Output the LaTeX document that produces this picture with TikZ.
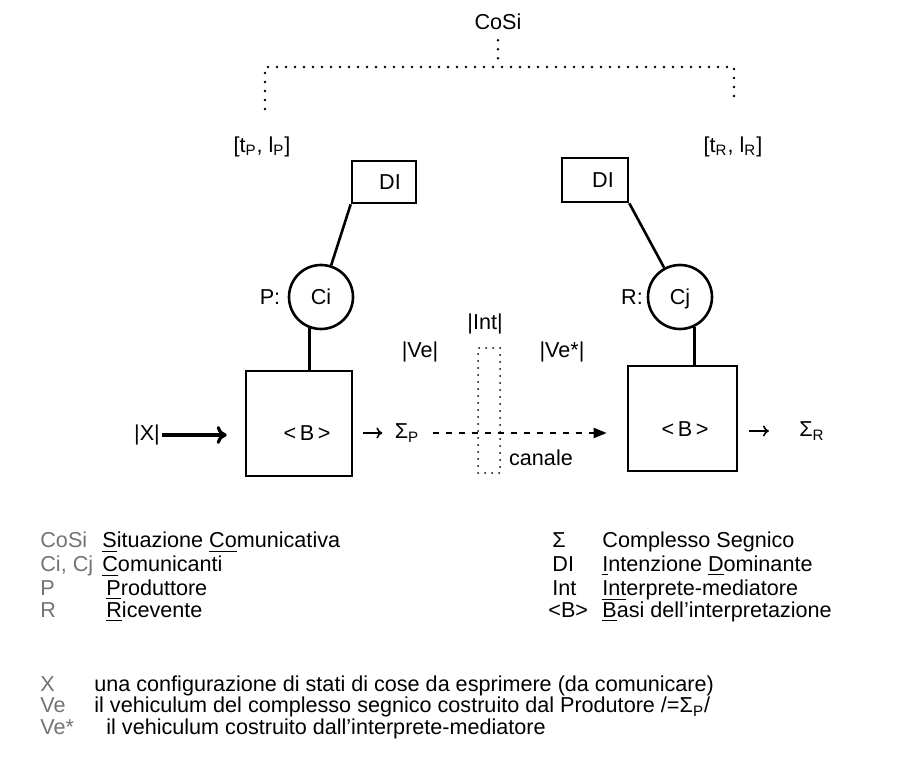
\documentclass[tikz,border=0pt]{standalone}
\usepackage{fontspec}
\setmainfont{Liberation Sans}
\usetikzlibrary{arrows.meta}

\begin{document}
\begin{tikzpicture}[x=0.5pt, y=-0.5pt,
    font=\fontsize{10.8}{13}\selectfont,
    every node/.style={inner sep=1pt},
    frame/.style={draw, line width=1.3pt, inner sep=0pt, text height=7.7pt, text depth=0pt},
    link/.style={line width=1.3pt},
    dotline/.style={line width=1.4pt, line cap=round, dash pattern=on 0pt off 4.5pt},
    dashline/.style={line width=1pt, dash pattern=on 3pt off 3.5pt,
        -{Triangle[length=6.5pt, width=5pt]}},
    smallarrow/.style={line width=0.8pt, -{To[length=3pt, width=5.5pt]}},
    tag/.style={anchor=base west, text=black!55},
    rtag/.style={anchor=base west},
    entry/.style={anchor=base west}]
    \useasboundingbox (0,0) rectangle (906,764);

    % situazione comunicativa
    \node (cosi) at (498,22) {CoSi};
    \node (tlP) at (262,147) {[t\textsubscript{P}, l\textsubscript{P}]};
    \node (tlR) at (733,147) {[t\textsubscript{R}, l\textsubscript{R}]};
    \coordinate (brL) at (265,67);
    \coordinate (brR) at (734,67);
    \coordinate (endL) at (265,109);
    \coordinate (endR) at (734,103);
    \draw[dotline, shorten <=4pt] (cosi.south) -- (cosi.south |- brL);
    \draw[dotline] (endL) -- (brL) -- (brR) -- (endR);

    % produttore
    \node[frame, minimum width=32pt, minimum height=21pt] (diP) at (384,182) {\hspace*{6pt}DI};
    \node[frame, circle, minimum size=32pt] (ci) at (321,297) {Ci};
    \node (lblP) at (270,297) {P:};
    \node[frame, minimum width=53pt, minimum height=52.5pt] (boxP) at (299,423.5) {};
    \node (bP) at (307,433) {<\,B\,>};
    \draw[link] (diP.south west) -- (ci);
    \draw[link] (ci.250) -- (ci.250 |- boxP.north);

    % ricevente
    \node[frame, minimum width=33pt, minimum height=22pt] (diR) at (595,180) {\hspace*{8pt}DI};
    \node[frame, circle, minimum size=32pt] (cj) at (680,297) {Cj};
    \node (lblR) at (632,297) {R:};
    \node[frame, minimum width=54.5pt, minimum height=52.5pt] (boxR) at (682.5,418.5) {};
    \node (bR) at (685,429) {<\,B\,>};
    \draw[link] (diR.south east) -- (cj);
    \draw[link] (cj.296) -- (cj.296 |- boxR.north);

    % canale
    \node (x) at (147,435) {|X|};
    \node (sigP) at (407,433) {Σ\textsubscript{P}};
    \node (sigR) at (812,431) {Σ\textsubscript{R}};
    \node[draw, line width=1pt, line cap=round, dash pattern=on 0pt off 3.5pt,
          minimum width=11pt, minimum height=62.5pt] (intBox) at (489,410.5) {};
    \node (int) at (485,324) {|Int|};
    \node (ve) at (420,352) {|Ve|};
    \node (vestar) at (562,352) {|Ve*|};
    \node (canale) at (541,458) {canale};
    \draw[line width=1.6pt, -{To[length=5pt, width=9pt]}, shorten >=9pt]
        (x.east) -- (boxP.west |- x);
    \draw[smallarrow, shorten <=5pt, shorten >=5pt] (boxP.east |- sigP) -- (sigP.west);
    \draw[dashline, shorten <=5.5pt, shorten >=10pt] (sigP.east) -- (boxR.west |- sigP);
    \draw[smallarrow, shorten <=5.5pt, shorten >=14pt] (boxR.east |- sigR) -- (sigR.west);

    % legenda
    \node[tag] (kCoSi) at (38,548) {CoSi};
    \node[entry] (dCoSi) at (100,548) {\underline{S}ituazione \underline{Co}municativa};
    \node[tag] (kCiCj) at (38,572) {Ci, Cj};
    \node[entry] (dCiCj) at (100,572) {\underline{C}omunicanti};
    \node[tag] (kP) at (38,596) {P};
    \node[entry] (dP) at (104,596) {\underline{P}roduttore};
    \node[tag] (kR) at (38,618) {R};
    \node[entry] (dR) at (104,618) {\underline{R}icevente};

    \node[rtag] (kSigma) at (550,548) {Σ};
    \node[entry] (dSigma) at (600,548) {Complesso Segnico};
    \node[rtag] (kDI) at (550,572) {DI};
    \node[entry] (dDI) at (600,572) {\underline{I}ntenzione \underline{D}ominante};
    \node[rtag] (kInt) at (550,596) {Int};
    \node[entry] (dInt) at (600,596) {\underline{Int}erprete-mediatore};
    \node[rtag] (kB) at (546,618) {<B>};
    \node[entry] (dB) at (600,618) {\underline{B}asi dell'interpretazione};

    \node[tag] (kX) at (38,692) {X};
    \node[entry] (dX) at (92,692) {una configurazione di stati di cose da esprimere (da comunicare)};
    \node[tag] (kVe) at (38,713) {Ve};
    \node[entry] (dVe) at (92,713) {il vehiculum del complesso segnico costruito dal Produtore /=Σ\textsubscript{P}/};
    \node[tag] (kVestar) at (38,734) {Ve*};
    \node[entry] (dVestar) at (104,734) {il vehiculum costruito dall'interprete-mediatore};
\end{tikzpicture}
\end{document}
